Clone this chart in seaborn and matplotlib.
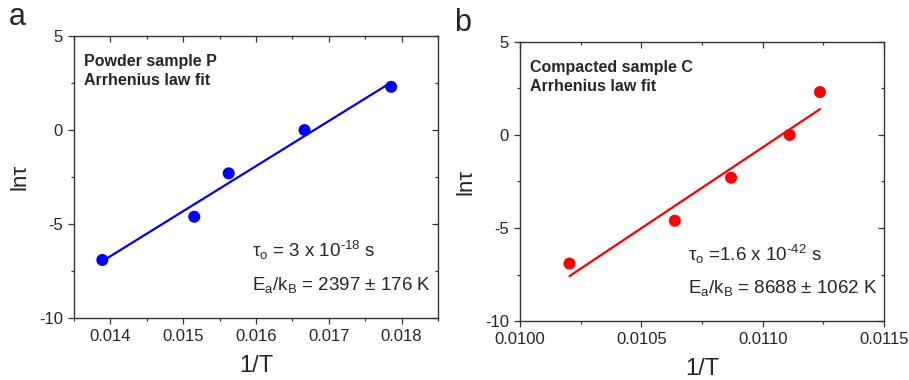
import numpy as np
import pandas as pd
import matplotlib
matplotlib.use("Agg")
import matplotlib.pyplot as plt
import seaborn as sns
from matplotlib.ticker import FormatStrFormatter, MultipleLocator

# ---- data ----
inv_T_P = [0.013889, 0.015152, 0.015625, 0.016667, 0.017857]
ln_tau_P = [-6.91, -4.61, -2.30, 0.0, 2.30]
inv_T_C = [0.010204, 0.010638, 0.010870, 0.011111, 0.011236]
ln_tau_C = [-6.91, -4.61, -2.30, 0.0, 2.30]

title_P = "Powder sample P\nArrhenius law fit"
title_C = "Compacted sample C\nArrhenius law fit"
ann_P = ["τ$_{\\rm o}$ = 3 x 10$^{\\text{-18}}$ s", "E$_{\\rm a}$/k$_{\\rm B}$ = 2397 ± 176 K"]
ann_C = ["τ$_{\\rm o}$ =1.6 x 10$^{\\text{-42}}$ s", "E$_{\\rm a}$/k$_{\\rm B}$ = 8688 ± 1062 K"]
yticks = [-10, -5, 0, 5]
xticks_P = [0.014, 0.015, 0.016, 0.017, 0.018]
xticks_C = [0.0100, 0.0105, 0.0110, 0.0115]

sns.set_style("ticks")
plt.rcParams["font.family"] = ["Liberation Sans", "DejaVu Sans"]
plt.rcParams["mathtext.fontset"] = "custom"
plt.rcParams["mathtext.rm"] = "Liberation Sans"
plt.rcParams["mathtext.it"] = "Liberation Sans:italic"
plt.rcParams["axes.unicode_minus"] = False

fig = plt.figure(figsize=(9.09, 3.80), dpi=100)
axA = fig.add_axes([0.0814, 0.163, 0.4004, 0.742])
axB = fig.add_axes([0.572, 0.155, 0.4005, 0.735])

dfP = pd.DataFrame({"x": inv_T_P, "y": ln_tau_P})
dfC = pd.DataFrame({"x": inv_T_C, "y": ln_tau_C})

spine_c = "#333333"

def style(ax, df, color, xlim, xticks, xminor, fmt, title, ann, ann_x):
    sns.regplot(data=df, x="x", y="y", ax=ax, ci=None, color=color,
                scatter_kws=dict(s=75, color=color, edgecolor="none", alpha=1),
                line_kws=dict(lw=1.6, color=color))
    ax.set_xlim(*xlim)
    ax.set_ylim(-10, 5)
    ax.set_xticks(xticks)
    ax.xaxis.set_minor_locator(MultipleLocator(xminor))
    ax.set_yticks(yticks)
    ax.yaxis.set_minor_locator(MultipleLocator(2.5))
    ax.xaxis.set_major_formatter(FormatStrFormatter(fmt))
    ax.tick_params(which="major", direction="out", length=4, width=0.9,
                   color=spine_c, labelsize=12, pad=4)
    ax.tick_params(which="minor", direction="out", length=2.5, width=0.9, color=spine_c)
    for sp in ax.spines.values():
        sp.set_visible(True)
        sp.set_linewidth(1.0)
        sp.set_color(spine_c)
    # mirrored inward ticks on top and right
    top = ax.secondary_xaxis("top")
    top.set_xticks(xticks)
    top.xaxis.set_minor_locator(MultipleLocator(xminor))
    top.tick_params(which="major", direction="in", length=4, width=0.9, color=spine_c, labeltop=False)
    top.tick_params(which="minor", direction="in", length=2.5, width=0.9, color=spine_c)
    top.spines["top"].set_visible(False)
    right = ax.secondary_yaxis("right")
    right.set_yticks(yticks)
    right.yaxis.set_minor_locator(MultipleLocator(2.5))
    right.tick_params(which="major", direction="in", length=4, width=0.9, color=spine_c, labelright=False)
    right.tick_params(which="minor", direction="in", length=2.5, width=0.9, color=spine_c)
    right.spines["right"].set_visible(False)
    ax.set_xlabel("1/T", fontsize=17, labelpad=8)
    ax.set_ylabel("lnτ", fontsize=16, labelpad=6)
    ax.text(0.027, 0.935, title, transform=ax.transAxes, fontsize=11.5,
            fontweight="bold", va="top", ha="left", linespacing=1.3)
    ax.text(ann_x, 0.215, ann[0], transform=ax.transAxes, fontsize=13.5, va="baseline", ha="left")
    ax.text(ann_x, 0.10, ann[1], transform=ax.transAxes, fontsize=13.5, va="baseline", ha="left")

style(axA, dfP, "#0000FF", (0.0135, 0.0185), xticks_P, 0.0005, "%.3f", title_P, ann_P, 0.49)
style(axB, dfC, "#FF0000", (0.0100, 0.0115), xticks_C, 0.00025, "%.4f", title_C, ann_C, 0.462)

fig.text(0.010, 0.935, "a", fontsize=22, ha="left", va="baseline")
fig.text(0.500, 0.918, "b", fontsize=22, ha="left", va="baseline")

fig.savefig("out.png", dpi=100)
